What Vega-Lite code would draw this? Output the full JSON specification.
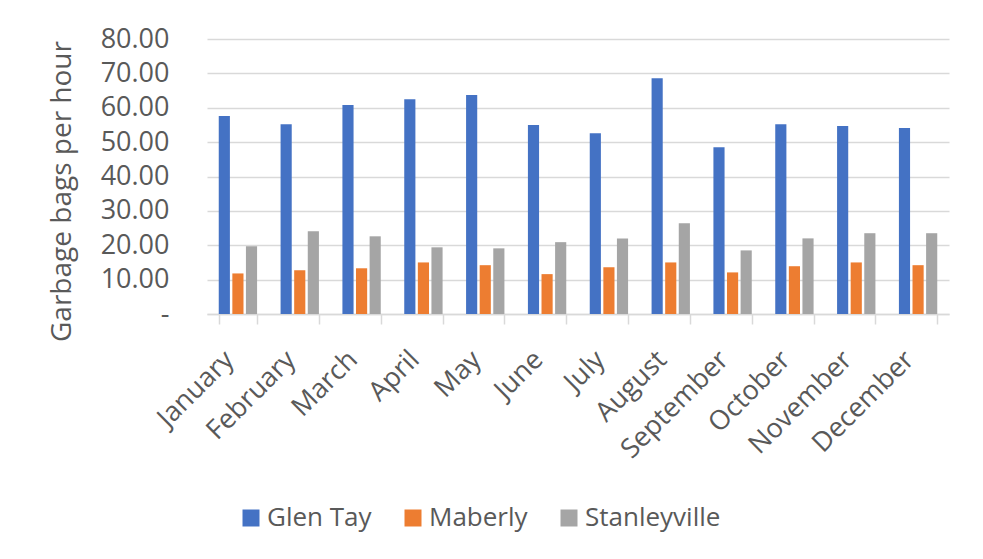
{
  "$schema": "https://vega.github.io/schema/vega-lite/v6.json",
  "width": 742,
  "height": 275,
  "autosize": {"type": "none"},
  "padding": {"left": 207, "top": 39, "right": 34, "bottom": 245},
  "background": "white",
  "data": {
    "values": [
      {"month": "January", "site": "Glen Tay", "value": 57.6},
      {"month": "January", "site": "Maberly", "value": 11.8},
      {"month": "January", "site": "Stanleyville", "value": 19.7},
      {"month": "February", "site": "Glen Tay", "value": 55.2},
      {"month": "February", "site": "Maberly", "value": 12.7},
      {"month": "February", "site": "Stanleyville", "value": 24.1},
      {"month": "March", "site": "Glen Tay", "value": 60.8},
      {"month": "March", "site": "Maberly", "value": 13.3},
      {"month": "March", "site": "Stanleyville", "value": 22.6},
      {"month": "April", "site": "Glen Tay", "value": 62.5},
      {"month": "April", "site": "Maberly", "value": 15.0},
      {"month": "April", "site": "Stanleyville", "value": 19.4},
      {"month": "May", "site": "Glen Tay", "value": 63.7},
      {"month": "May", "site": "Maberly", "value": 14.2},
      {"month": "May", "site": "Stanleyville", "value": 19.1},
      {"month": "June", "site": "Glen Tay", "value": 55.0},
      {"month": "June", "site": "Maberly", "value": 11.6},
      {"month": "June", "site": "Stanleyville", "value": 20.9},
      {"month": "July", "site": "Glen Tay", "value": 52.6},
      {"month": "July", "site": "Maberly", "value": 13.6},
      {"month": "July", "site": "Stanleyville", "value": 22.0},
      {"month": "August", "site": "Glen Tay", "value": 68.6},
      {"month": "August", "site": "Maberly", "value": 15.0},
      {"month": "August", "site": "Stanleyville", "value": 26.4},
      {"month": "September", "site": "Glen Tay", "value": 48.5},
      {"month": "September", "site": "Maberly", "value": 12.1},
      {"month": "September", "site": "Stanleyville", "value": 18.5},
      {"month": "October", "site": "Glen Tay", "value": 55.2},
      {"month": "October", "site": "Maberly", "value": 13.9},
      {"month": "October", "site": "Stanleyville", "value": 22.0},
      {"month": "November", "site": "Glen Tay", "value": 54.7},
      {"month": "November", "site": "Maberly", "value": 15.0},
      {"month": "November", "site": "Stanleyville", "value": 23.5},
      {"month": "December", "site": "Glen Tay", "value": 54.1},
      {"month": "December", "site": "Maberly", "value": 14.2},
      {"month": "December", "site": "Stanleyville", "value": 23.5}
    ]
  },
  "mark": {"type": "bar"},
  "encoding": {
    "x": {
      "field": "month",
      "type": "nominal",
      "sort": ["January", "February", "March", "April", "May", "June", "July", "August", "September", "October", "November", "December"],
      "scale": {"paddingInner": 0.38, "paddingOuter": 0.19},
      "axis": {
        "title": null,
        "labelAngle": -45,
        "labelFont": "Open Sans",
        "labelFontSize": 27,
        "labelColor": "#595959",
        "labelPadding": 22,
        "labelOffset": -18,
        "domainColor": "#D9D9D9",
        "domainWidth": 1.5,
        "tickColor": "#D9D9D9",
        "tickWidth": 1.5,
        "tickSize": 10,
        "tickBand": "extent",
        "grid": false
      }
    },
    "xOffset": {
      "field": "site",
      "type": "nominal",
      "sort": ["Glen Tay", "Maberly", "Stanleyville"],
      "scale": {"paddingInner": 0.18, "paddingOuter": 0}
    },
    "y": {
      "field": "value",
      "type": "quantitative",
      "scale": {"domain": [0, 80], "nice": false},
      "axis": {
        "title": "Garbage bags per hour",
        "titleFont": "Open Sans",
        "titleFontSize": 28,
        "titleFontWeight": "normal",
        "titleColor": "#595959",
        "titlePadding": 24,
        "titleY": 152,
        "values": [0, 10, 20, 30, 40, 50, 60, 70, 80],
        "labelExpr": "datum.value == 0 ? '-\u00a0\u00a0\u00a0' : format(datum.value, '.2f')",
        "labelFont": "Open Sans",
        "labelFontSize": 27,
        "labelColor": "#595959",
        "labelPadding": 38,
        "domain": false,
        "ticks": false,
        "gridColor": "#D9D9D9",
        "gridWidth": 1.5
      }
    },
    "color": {
      "field": "site",
      "type": "nominal",
      "sort": ["Glen Tay", "Maberly", "Stanleyville"],
      "scale": {"domain": ["Glen Tay", "Maberly", "Stanleyville"], "range": ["#4472C4", "#ED7D31", "#A5A5A5"]},
      "legend": {
        "title": null,
        "orient": "none",
        "legendX": 31,
        "legendY": 466,
        "direction": "horizontal",
        "symbolType": "square",
        "symbolSize": 289,
        "symbolStrokeWidth": 0,
        "labelFont": "Open Sans",
        "labelFontSize": 26,
        "labelColor": "#595959",
        "columnPadding": 28,
        "labelOffset": 3
      }
    }
  },
  "config": {
    "view": {"stroke": null}
  }
}
